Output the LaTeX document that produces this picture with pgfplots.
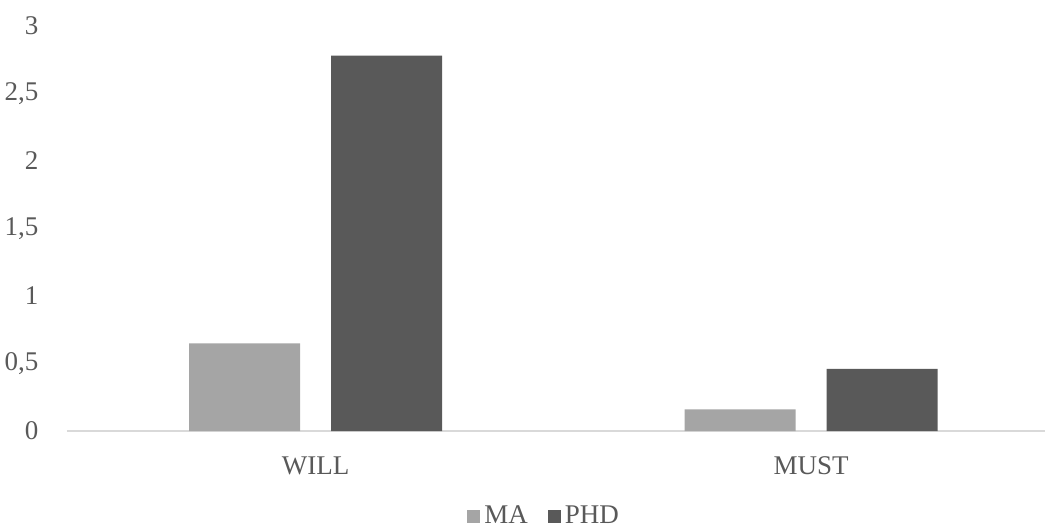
\documentclass[border=0pt]{standalone}
\usepackage{pgfplots}
\pgfplotsset{compat=1.18}
\usepackage{fontspec}
\setmainfont{Liberation Serif}
\definecolor{txt}{HTML}{595959}
\definecolor{ma}{HTML}{A5A5A5}
\definecolor{phd}{HTML}{595959}
\definecolor{axln}{HTML}{D9D9D9}
\begin{document}
\begin{tikzpicture}
\begin{axis}[
  at={(0,0)}, anchor=south west, scale only axis,
  width=489pt, height=202.5pt,
  xmin=-0.5015, xmax=1.472, ymin=0, ymax=3,
  axis x line=bottom, axis y line=left,
  x axis line style={draw=axln, line width=1pt, -},
  y axis line style={draw=none},
  xtick={0,1}, xticklabels={WILL,MUST},
  ytick={0,0.5,1,1.5,2,2.5,3},
  major tick style={draw=none},
  ybar=15.5pt, bar width=55.5pt,
  /pgf/number format/use comma,
  /pgf/number format/assume math mode=true,
  ticklabel style={font=\fontsize{13.5}{16}\selectfont, text=txt},
  yticklabel style={inner sep=0pt, xshift=-12pt},
  xticklabel style={inner sep=0pt, yshift=-8.5pt},
  legend style={at={(0.4888,-0.211)}, anchor=center, draw=none, fill=none,
    legend columns=2, font=\fontsize{13.5}{16}\selectfont, text=txt,
    /tikz/every even column/.append style={column sep=8pt}},
  legend image code/.code={\fill[#1] (0pt,-3.2pt) rectangle (6.5pt,3.2pt);},
]
\addplot[fill=ma, draw=none] coordinates {(0,0.65) (1,0.16)};
\addplot[fill=phd, draw=none] coordinates {(0,2.78) (1,0.46)};
\legend{MA,PHD}
\end{axis}
\pgfresetboundingbox
\path[use as bounding box] (-33.5pt,-48pt) rectangle (489.5pt,215.5pt);
\end{tikzpicture}
\end{document}
